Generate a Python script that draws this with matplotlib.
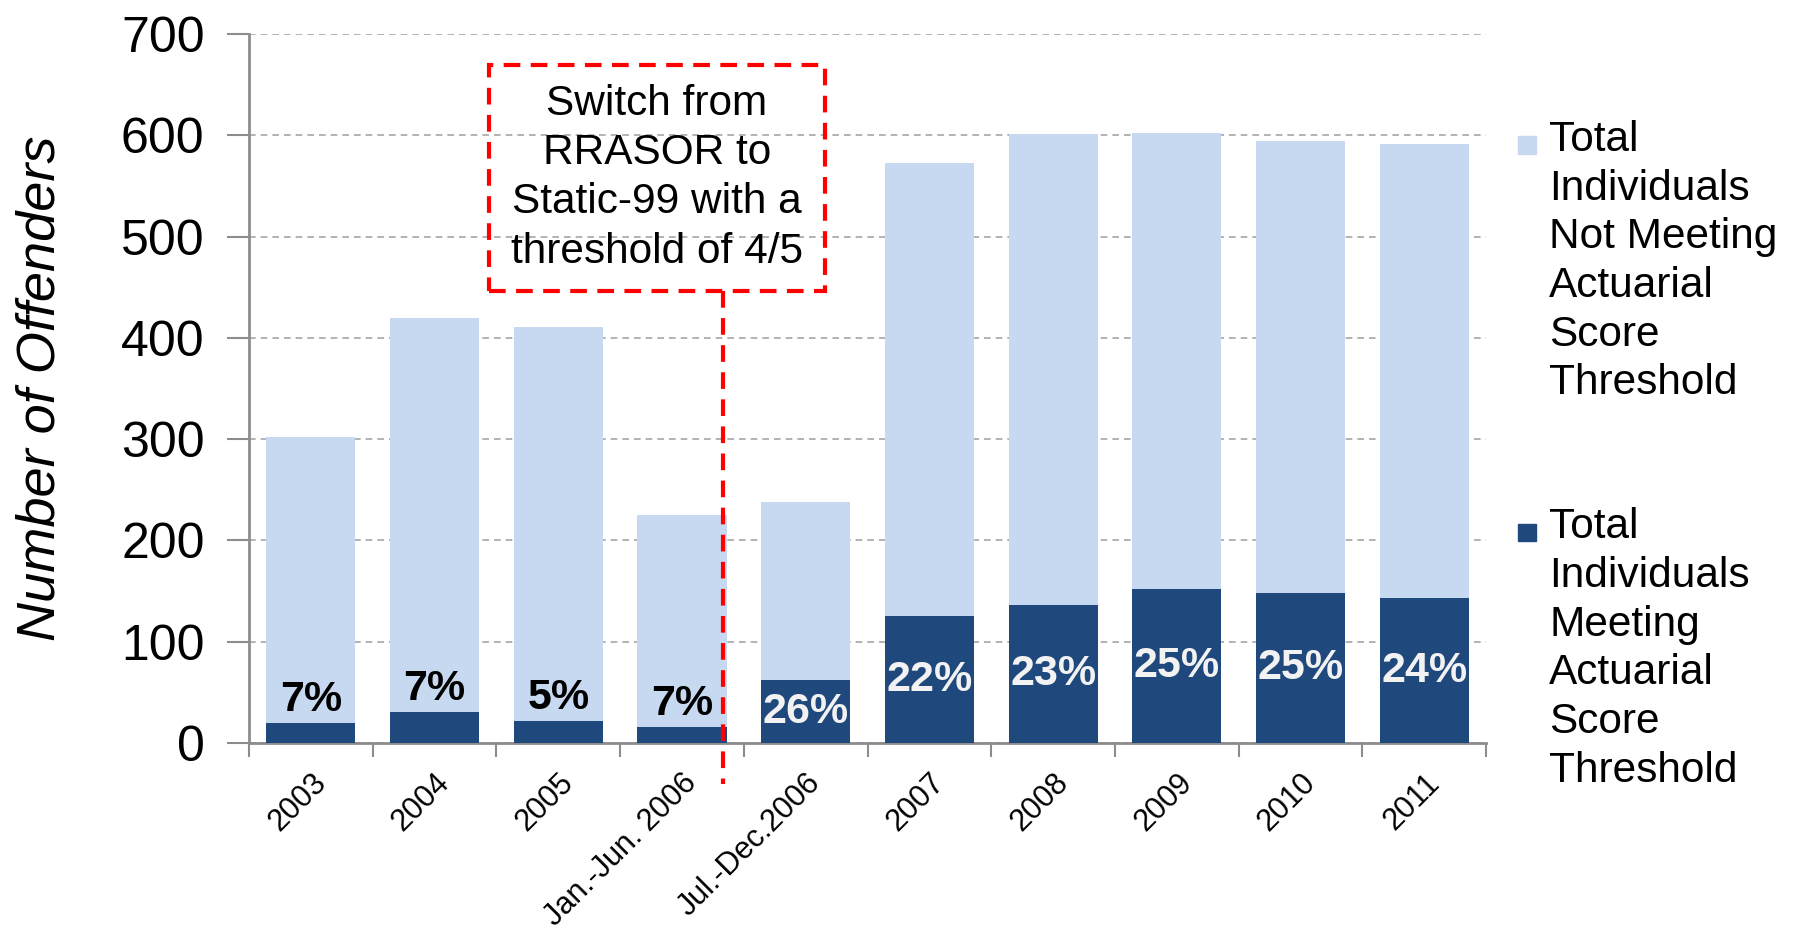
import matplotlib
matplotlib.use('Agg')
import matplotlib.pyplot as plt
from matplotlib.patches import Rectangle

plt.rcParams['font.family'] = ['Liberation Sans', 'DejaVu Sans']

# data
categories = ['2003', '2004', '2005', 'Jan.-Jun. 2006', 'Jul.-Dec.2006',
              '2007', '2008', '2009', '2010', '2011']
totals = [302, 420, 411, 225, 238, 573, 601, 602, 594, 591]
meeting = [20, 31, 22, 16, 62, 125, 136, 152, 148, 143]
pct_labels = ['7%', '7%', '5%', '7%', '26%', '22%', '23%', '25%', '25%', '24%']
not_meeting = [t - m for t, m in zip(totals, meeting)]

light = '#C6D9F0'
dark = '#1F497D'

fig = plt.figure(figsize=(17.97, 9.31), dpi=100)
ax = fig.add_axes([0.1386, 0.202, 0.827 - 0.1386, 0.9635 - 0.202])

x = list(range(len(categories)))
ax.bar(x, meeting, width=0.72, color=dark, zorder=3)
ax.bar(x, not_meeting, bottom=meeting, width=0.72, color=light, zorder=3)

ax.set_xlim(-0.5, len(categories) - 0.5)
ax.set_ylim(0, 700)
ax.set_yticks(range(0, 701, 100))
ax.yaxis.grid(True, linestyle=(0, (4, 3)), color='#A6A6A6', lw=1.2, zorder=0)

for s in ['top', 'right']:
    ax.spines[s].set_visible(False)
for s in ['left', 'bottom']:
    ax.spines[s].set_color('#8C8C8C')
    ax.spines[s].set_linewidth(2)

ax.tick_params(axis='y', labelsize=36, length=16, width=1.5, color='#8C8C8C', pad=16)
# category ticks sit on the boundaries, labels on the centres
ax.set_xticks([i - 0.5 for i in range(len(categories) + 1)])
ax.set_xticklabels([])
ax.tick_params(axis='x', which='major', length=10, width=1.5, color='#8C8C8C')
ax.set_xticks(x, minor=True)
ax.set_xticklabels(categories, minor=True, rotation=45, ha='right',
                   rotation_mode='anchor', fontsize=22)
ax.tick_params(axis='x', which='minor', length=0, pad=18)

ax.set_ylabel('Number of Offenders', fontsize=39, style='italic')
ax.yaxis.set_label_coords(-0.148, 0.5)

for i in x:
    m = meeting[i]
    if m < 50:
        ax.text(i, m + 22, pct_labels[i], ha='center', va='center', fontsize=31,
                fontweight='bold', color='black', zorder=5)
    else:
        ax.text(i, m / 2, pct_labels[i], ha='center', va='center', fontsize=31,
                fontweight='bold', color='#F2F2F2', zorder=5)

# annotation box and divider line
ax.add_patch(Rectangle((1.44, 446), 4.155 - 1.44, 669 - 446, fill=False,
                       edgecolor='#FF0000', lw=3, linestyle=(0, (4, 2.5)),
                       zorder=6, clip_on=False))
ax.plot([3.335, 3.335], [446, -41], color='#FF0000', lw=3,
        linestyle=(0, (4, 2.5)), zorder=6, clip_on=False)
ax.text((1.44 + 4.155) / 2, 558,
        'Switch from\nRRASOR to\nStatic-99 with a\nthreshold of 4/5',
        ha='center', va='center', fontsize=30.5, linespacing=1.3, zorder=7)

# legend drawn by hand so the marker sits on the first line
leg = [(light, 'Total\nIndividuals\nNot Meeting\nActuarial\nScore\nThreshold', 0.871),
       (dark, 'Total\nIndividuals\nMeeting\nActuarial\nScore\nThreshold', 0.455)]
for col, lab, ytop in leg:
    fig.text(0.862, ytop, lab, ha='left', va='top', fontsize=30.5, linespacing=1.28)
    fig.add_artist(Rectangle((0.845, ytop - 0.036), 0.0095, 0.0185,
                             transform=fig.transFigure, color=col))

fig.savefig('out.png', dpi=100)
